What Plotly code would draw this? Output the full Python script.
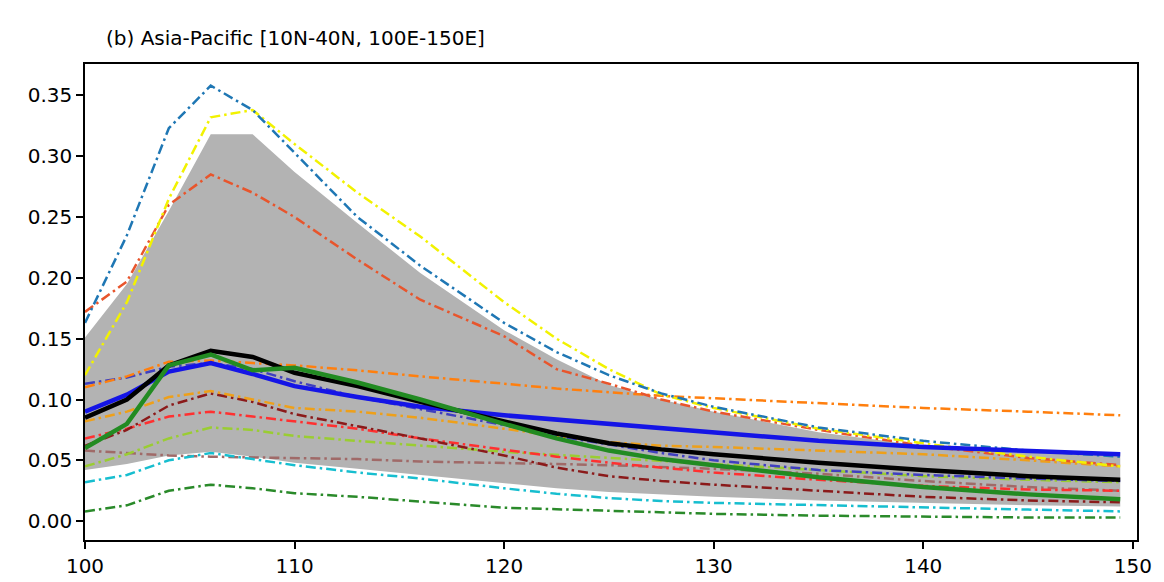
import plotly.graph_objects as go

lon = [100, 102, 104, 106, 108, 110, 113, 116, 120, 122.5, 125, 127.5, 130, 135, 140, 145, 149.4]

band_upper = [0.151, 0.195, 0.255, 0.318, 0.318, 0.287, 0.245, 0.204, 0.157, 0.133, 0.112, 0.100, 0.090, 0.073, 0.062, 0.058, 0.056]
band_lower = [0.042, 0.047, 0.054, 0.057, 0.053, 0.048, 0.043, 0.038, 0.031, 0.027, 0.024, 0.022, 0.020, 0.017, 0.015, 0.013, 0.012]

m_tabblue = [0.163, 0.235, 0.323, 0.358, 0.338, 0.303, 0.250, 0.210, 0.163, 0.139, 0.120, 0.105, 0.094, 0.077, 0.066, 0.058, 0.053]
m_yellow = [0.120, 0.180, 0.265, 0.332, 0.338, 0.310, 0.270, 0.234, 0.180, 0.150, 0.125, 0.104, 0.093, 0.076, 0.064, 0.053, 0.045]
m_orangered = [0.172, 0.197, 0.260, 0.285, 0.270, 0.250, 0.215, 0.182, 0.152, 0.125, 0.113, 0.100, 0.090, 0.075, 0.062, 0.052, 0.046]
m_orange = [0.110, 0.119, 0.131, 0.132, 0.130, 0.128, 0.124, 0.119, 0.113, 0.109, 0.106, 0.103, 0.101, 0.097, 0.093, 0.090, 0.087]
m_slate = [0.113, 0.118, 0.127, 0.130, 0.125, 0.115, 0.102, 0.092, 0.079, 0.070, 0.063, 0.056, 0.050, 0.042, 0.038, 0.035, 0.033]
m_gold = [0.082, 0.090, 0.102, 0.107, 0.100, 0.093, 0.090, 0.085, 0.076, 0.070, 0.065, 0.062, 0.061, 0.058, 0.055, 0.050, 0.045]
m_darkred = [0.062, 0.075, 0.095, 0.105, 0.098, 0.088, 0.078, 0.068, 0.054, 0.044, 0.037, 0.033, 0.030, 0.025, 0.020, 0.017, 0.0155]
m_red = [0.068, 0.076, 0.086, 0.090, 0.086, 0.082, 0.076, 0.068, 0.059, 0.053, 0.048, 0.044, 0.040, 0.034, 0.029, 0.026, 0.025]
m_yellowgreen = [0.045, 0.055, 0.068, 0.077, 0.075, 0.070, 0.066, 0.062, 0.057, 0.0545, 0.052, 0.0495, 0.047, 0.042, 0.037, 0.034, 0.032]
m_rosy = [0.058, 0.056, 0.054, 0.053, 0.0525, 0.052, 0.051, 0.049, 0.048, 0.047, 0.046, 0.0445, 0.043, 0.039, 0.033, 0.028, 0.025]
m_cyan = [0.032, 0.038, 0.050, 0.056, 0.051, 0.046, 0.040, 0.035, 0.027, 0.0225, 0.019, 0.0165, 0.015, 0.013, 0.0115, 0.0095, 0.008]
m_green = [0.008, 0.013, 0.025, 0.030, 0.027, 0.023, 0.020, 0.016, 0.011, 0.0098, 0.0085, 0.0072, 0.006, 0.0045, 0.0035, 0.003, 0.003]

obs_black = [0.085, 0.100, 0.128, 0.140, 0.135, 0.122, 0.111, 0.098, 0.082, 0.072, 0.064, 0.059, 0.055, 0.048, 0.042, 0.037, 0.034]
obs_blue = [0.090, 0.104, 0.123, 0.130, 0.121, 0.111, 0.102, 0.094, 0.087, 0.0835, 0.080, 0.0765, 0.073, 0.066, 0.061, 0.058, 0.055]
obs_green = [0.060, 0.080, 0.128, 0.137, 0.124, 0.126, 0.114, 0.100, 0.080, 0.068, 0.058, 0.051, 0.046, 0.036, 0.028, 0.022, 0.018]

y_ticks = [0.00, 0.05, 0.10, 0.15, 0.20, 0.25, 0.30, 0.35]
x_ticks = [100, 110, 120, 130, 140, 150]
title_text = "(b) Asia-Pacific [10N-40N, 100E-150E]"

DASHDOT = "10px,4px,2.5px,4px"

fig = go.Figure()
fig.add_trace(go.Scatter(x=lon, y=band_lower, mode="lines", line=dict(width=0, color="#b3b3b3"),
                         showlegend=False, hoverinfo="skip"))
fig.add_trace(go.Scatter(x=lon, y=band_upper, mode="lines", line=dict(width=0, color="#b3b3b3"),
                         fill="tonexty", fillcolor="#b3b3b3", showlegend=False, hoverinfo="skip"))

models = [
    (m_rosy, "#a06a68"),
    (m_yellowgreen, "#9acd32"),
    (m_cyan, "#17becf"),
    (m_green, "#2a8a2a"),
    (m_red, "#ff3030"),
    (m_darkred, "#8b1a1a"),
    (m_gold, "#eea01a"),
    (m_slate, "#3f3fbf"),
    (m_orange, "#ff7f0e"),
    (m_orangered, "#e8552c"),
    (m_yellow, "#f2f200"),
    (m_tabblue, "#1f77b4"),
]
for vals, col in models:
    fig.add_trace(go.Scatter(x=lon, y=vals, mode="lines",
                             line=dict(color=col, width=2.5, dash=DASHDOT),
                             showlegend=False))

for vals, col in [(obs_blue, "#1515e6"), (obs_black, "#000000"), (obs_green, "#228b22")]:
    fig.add_trace(go.Scatter(x=lon, y=vals, mode="lines",
                             line=dict(color=col, width=4.5), showlegend=False))

axis_common = dict(showline=True, linecolor="black", linewidth=1.5, mirror=True,
                   ticks="outside", ticklen=7, tickwidth=1.5, tickcolor="black",
                   showgrid=False, zeroline=False,
                   tickfont=dict(family="DejaVu Sans", size=20, color="black"))

fig.update_layout(
    width=1164, height=582,
    margin=dict(l=77, r=35, t=56, b=41),
    paper_bgcolor="white", plot_bgcolor="white",
    title=dict(text=title_text, x=98 / 1164, xanchor="left", xref="container",
               y=1 - 30 / 582, yanchor="middle", yref="container",
               font=dict(family="DejaVu Sans", size=20, color="black")),
    xaxis=dict(range=[100, 150.2], tickvals=x_ticks, ticktext=[str(v) for v in x_ticks], **axis_common),
    yaxis=dict(range=[-0.0155, 0.3758], tickvals=y_ticks, ticktext=[f"{v:.2f}" for v in y_ticks], **axis_common),
)

fig.write_html("out.html")
